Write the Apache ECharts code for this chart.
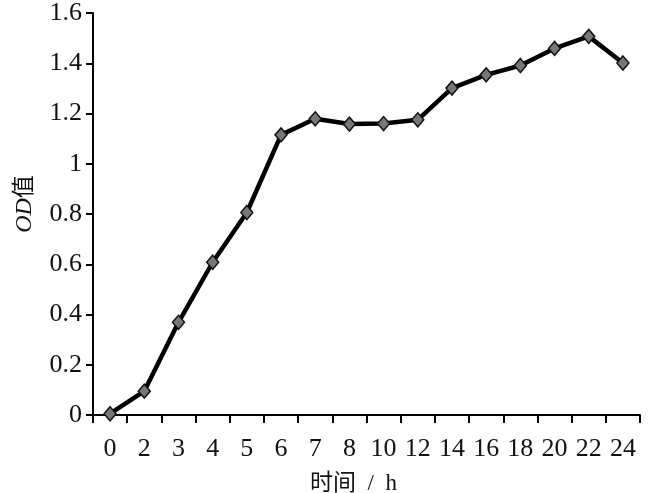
<!DOCTYPE html>
<html>
<head>
<meta charset="utf-8">
<script src="https://cdn.jsdelivr.net/npm/echarts@6/dist/echarts.min.js"></script>
<style>html,body{margin:0;padding:0;background:#fff;}#c{width:667px;height:493px;}</style>
</head>
<body>
<div id="c"></div>
<script>
var categories = ['0','2','3','4','5','6','7','8','10','12','14','16','18','20','22','24'];
var odValues = [0.005, 0.095, 0.369, 0.608, 0.806, 1.115, 1.179, 1.158, 1.160, 1.175, 1.301, 1.354, 1.391, 1.459, 1.507, 1.401];
var yTicks = [0, 0.2, 0.4, 0.6, 0.8, 1, 1.2, 1.4, 1.6];

var chart = echarts.init(document.getElementById('c'));
var font = '"Liberation Serif", "Times New Roman", "Noto Sans CJK SC", serif';
chart.setOption({
  animation: false,
  backgroundColor: '#fff',
  grid: {left: 93, right: 27, top: 13, bottom: 78, containLabel: false, outerBoundsMode: 'none'},
  xAxis: {
    type: 'category',
    data: categories,
    boundaryGap: true,
    name: '时间  /  h',
    nameLocation: 'middle',
    nameGap: 57,
    nameTextStyle: {fontFamily: font, fontSize: 23, color: '#111', padding: [0, 26, 0, 0]},
    axisLine: {lineStyle: {color: '#000', width: 2}},
    axisTick: {show: true, length: 8, lineStyle: {color: '#000', width: 2}},
    axisLabel: {fontFamily: font, fontSize: 26, color: '#111', margin: 21, interval: 0}
  },
  yAxis: {
    type: 'value',
    min: yTicks[0],
    max: yTicks[yTicks.length - 1],
    interval: 0.2,
    name: '{i|OD}{n|值}',
    nameLocation: 'middle',
    nameGap: 56,
    nameTextStyle: {
      padding: [0, 0, 0, 20],
      rich: {
        i: {fontFamily: font, fontSize: 24, fontStyle: 'italic', color: '#111'},
        n: {fontFamily: font, fontSize: 23, color: '#111'}
      }
    },
    axisLine: {show: true, lineStyle: {color: '#000', width: 2}},
    axisTick: {show: true, length: 7, lineStyle: {color: '#000', width: 2}},
    splitLine: {show: false},
    axisLabel: {fontFamily: font, fontSize: 26, color: '#111', margin: 11,
      formatter: function (v) { return String(Math.round(v * 10) / 10); }}
  },
  series: [{
    type: 'line',
    data: odValues,
    symbol: 'diamond',
    symbolSize: [12, 14],
    lineStyle: {color: '#000', width: 4.5},
    itemStyle: {color: '#777', borderColor: '#111', borderWidth: 1.5}
  }]
});
</script>
</body>
</html>
